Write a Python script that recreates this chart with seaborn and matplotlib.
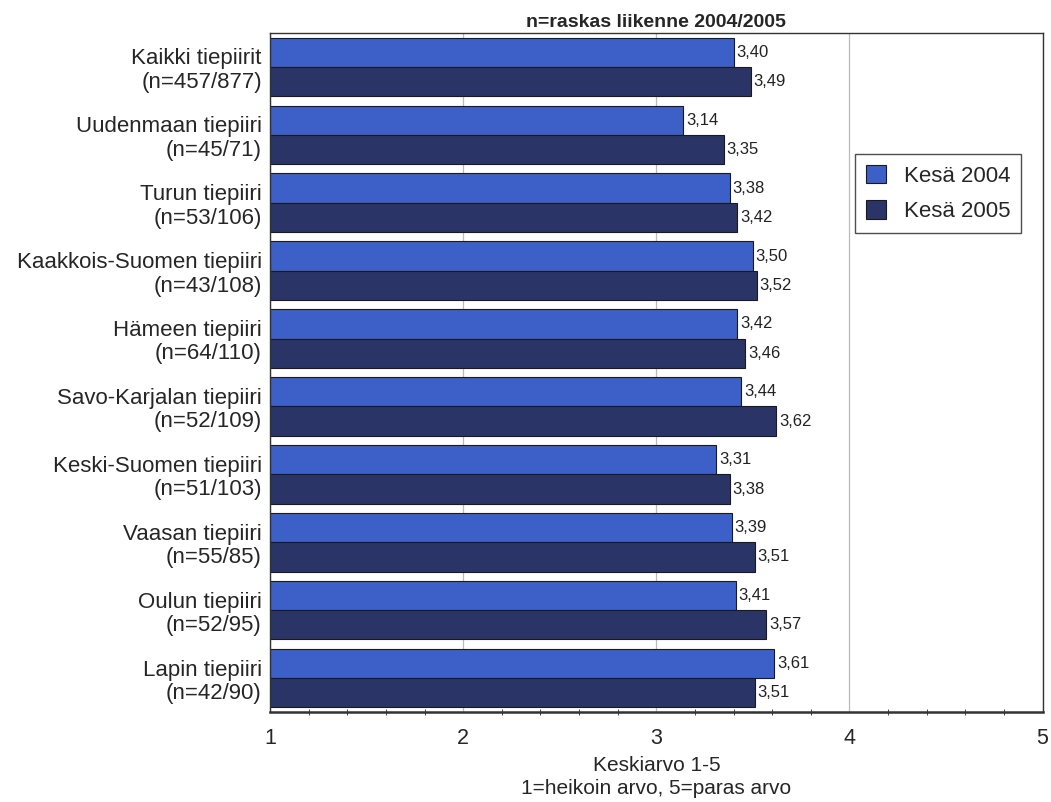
import pandas as pd
import seaborn as sns
import matplotlib.pyplot as plt
from matplotlib.ticker import MultipleLocator

# Data
districts = ['Kaikki tiepiirit\n(n=457/877)', 'Uudenmaan tiepiiri\n(n=45/71)',
             'Turun tiepiiri\n(n=53/106)', 'Kaakkois-Suomen tiepiiri\n(n=43/108)',
             'Hämeen tiepiiri\n(n=64/110)', 'Savo-Karjalan tiepiiri\n(n=52/109)',
             'Keski-Suomen tiepiiri\n(n=51/103)', 'Vaasan tiepiiri\n(n=55/85)',
             'Oulun tiepiiri\n(n=52/95)', 'Lapin tiepiiri\n(n=42/90)']
kesa_2004 = [3.40, 3.14, 3.38, 3.50, 3.42, 3.44, 3.31, 3.39, 3.41, 3.61]
kesa_2005 = [3.49, 3.35, 3.42, 3.52, 3.46, 3.62, 3.38, 3.51, 3.57, 3.51]
series = ['Kesä 2004', 'Kesä 2005']

df = pd.DataFrame({'district': districts * 2,
                   'value': kesa_2004 + kesa_2005,
                   'series': [series[0]] * len(districts) + [series[1]] * len(districts)})

sns.set_style('white')
plt.rcParams['font.family'] = ['Liberation Sans', 'DejaVu Sans']

fig = plt.figure(figsize=(10.51, 8.02), dpi=100)
ax = fig.add_axes([0.257, 0.112, 0.735, 0.847])

palette = {'Kesä 2004': '#3d5fc8', 'Kesä 2005': '#2b3466'}
sns.barplot(data=df, y='district', x='value', hue='series', orient='h',
            palette=palette, width=0.86, gap=0, edgecolor='#1a1a1a', linewidth=0.8,
            saturation=1, ax=ax, legend=True)

# scale runs 1-5, so bars start at 1
for patch in ax.patches:
    if patch.get_width() > 0:
        w = patch.get_width()
        patch.set_x(1)
        patch.set_width(w - 1)

for cont in ax.containers:
    labels = [f'{v:.2f}'.replace('.', ',') for v in cont.datavalues]
    ax.bar_label(cont, labels=labels, padding=2, fontsize=12, color='#222222')

ax.set_xlim(1, 5)
ax.set_ylim(len(districts) - 0.5, -0.5)
ax.xaxis.set_major_locator(MultipleLocator(1))
ax.xaxis.set_minor_locator(MultipleLocator(0.2))
ax.tick_params(axis='x', which='major', length=7, direction='inout', labelsize=15.5, pad=8)
ax.tick_params(axis='x', which='minor', length=4, direction='inout', bottom=True)
ax.tick_params(axis='y', length=0, labelsize=16, pad=6)
for t in ax.get_yticklabels():
    t.set_linespacing(1.15)
ax.grid(axis='x', which='major', color='#bbbbbb', linewidth=0.9)
ax.set_axisbelow(True)
for s in ax.spines.values():
    s.set_color('#333333')
    s.set_linewidth(1.0)
ax.spines['bottom'].set_linewidth(1.8)

ax.set_ylabel('')
ax.set_xlabel('Keskiarvo 1-5\n1=heikoin arvo, 5=paras arvo', fontsize=15,
              labelpad=5, linespacing=1.25)
ax.set_title('n=raskas liikenne 2004/2005', fontsize=14, fontweight='bold', pad=4)

leg = ax.legend(loc='upper left', bbox_to_anchor=(0.757, 0.822), fontsize=16,
                frameon=True, fancybox=False, edgecolor='#222222', title=None,
                handlelength=0.9, handleheight=0.9, borderpad=0.5, labelspacing=0.6,
                handletextpad=0.8, borderaxespad=0)
leg.get_frame().set_linewidth(1.0)

fig.savefig('out.png', dpi=100)
